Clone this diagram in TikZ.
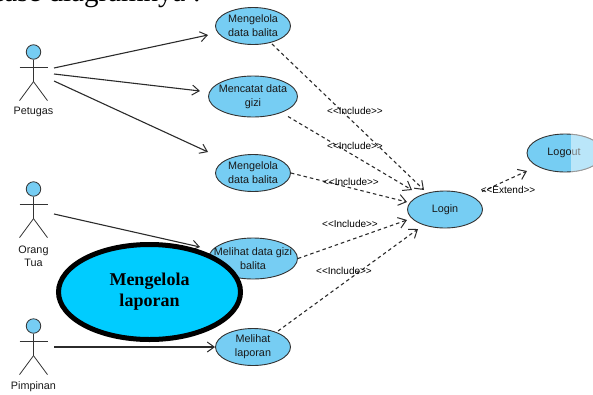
\documentclass[tikz,border=0pt]{standalone}
\usepackage{fontspec}
\setmainfont{Liberation Serif}
\newfontfamily\sansf{Liberation Sans}
\usetikzlibrary{arrows.meta,shapes.geometric}
\definecolor{uc}{HTML}{76CDF3}
\definecolor{bigc}{HTML}{00CCFF}
\definecolor{lnk}{HTML}{2B2B2B}
\tikzset{x=1pt,y=-1pt,
 ucase/.style={ellipse,draw=black!80,line width=.9pt,fill=uc,inner xsep=-12pt,inner ysep=-6pt,font=\sansf\fontsize{10.8}{14}\selectfont,align=center,text=black!90},
 assoc/.style={draw=lnk,line width=1.1pt,-{Straight Barb[length=7pt,width=10pt,line width=1pt]}},
 dep/.style={draw=lnk,line width=1.1pt,dash pattern=on 3.5pt off 3pt,-{Straight Barb[length=7.5pt,width=11pt,line width=1pt,sep=0pt]}},
 stereo/.style={font=\sansf\fontsize{10}{12}\selectfont,inner sep=0pt,text=black},
 actname/.style={font=\sansf\fontsize{10.8}{13}\selectfont,align=center,text=black!90,inner sep=0pt},
 limb/.style={draw=black!80,line width=.8pt},
}
\newcommand{\actor}[3]{%
 \node[circle,draw=black!80,line width=.8pt,fill=uc,minimum size=14.5pt,inner sep=0pt] (#3) at (#1,#2) {};
 \draw[limb] (#3.south) -- ++(0,22) coordinate (#3h);
 \draw[limb] (#1-14,#2+15) -- (#1+14,#2+15);
 \draw[limb] (#3h) -- ++(-14,19);
 \draw[limb] (#3h) -- ++(14,19);
}
\begin{document}
\begin{tikzpicture}
\useasboundingbox (0,0) rectangle (593,394);
\node[font=\fontsize{29}{32}\selectfont,anchor=base east,inner sep=0pt] (title) at (201,1) {case diagramnya :};
\actor{33.5}{52}{a1}
\actor{33.5}{189}{a2}
\actor{33.5}{326}{a3}
\node[actname] (l1) at (33.5,112) {Petugas};
\node[actname] (l2) at (33.5,256.5) {Orang\\Tua};
\node[actname] (l3) at (33.5,387) {Pimpinan};
\node[ucase,minimum width=75pt,minimum height=37pt] (u1) at (253,26) {Mengelola\\data balita};
\node[ucase,minimum width=89pt,minimum height=41pt] (u2) at (253,96.5) {Mencatat data\\gizi};
\node[ucase,minimum width=75pt,minimum height=37pt] (u3) at (253,173) {Mengelola\\data balita};
\node[ucase,minimum width=89pt,minimum height=41pt] (u4) at (253,258.5) {Melihat data gizi\\balita};
\node[ucase,minimum width=75pt,minimum height=37pt] (u5) at (253,347) {Melihat\\laporan};
\node[ucase,minimum width=75pt,minimum height=37pt] (login) at (445,209.5) {Login};
\begin{scope}
\node[ucase,minimum width=76pt,minimum height=38pt] (logout) at (565,153) {};
\clip (571,130) rectangle (610,180);
\fill[white,opacity=.5] (logout.center) ellipse (38.5pt and 19.5pt);
\end{scope}
\node[actname] (logouttext) at (564,152.5) {Logo\textcolor{black!50}{ut}};
\coordinate (s1) at (54,68);
\coordinate (s2) at (54,74);
\coordinate (s3) at (54,81);
\coordinate (s4) at (54,214);
\coordinate (s5) at (54,347);
\coordinate (e1) at (208,35);
\coordinate (e2) at (200,91);
\coordinate (e3) at (208,152);
\coordinate (e4) at (200,247);
\draw[assoc] (s1) -- (e1);
\draw[assoc] (s2) -- (e2);
\draw[assoc] (s3) -- (e3);
\draw[assoc] (s4) -- (e4);
\draw[assoc] (s5) -- (u5.west);
\draw[dep] (u1) ++(19,18) -- (424,190);
\draw[dep] (u2) ++(35,20) -- (412,190);
\draw[dep] (u3.east) -- (407,202);
\draw[dep] (u4.east) -- (407,220);
\draw[dep] (u5) ++(25,-16) -- (418,229);
\draw[dep] (login) ++(37,-18) -- (527,171);
\node[ucase,line width=5pt,draw=black,fill=bigc,minimum width=182pt,minimum height=95pt,font=\fontsize{18}{21}\selectfont\bfseries,text=black] (big) at (149.5,292) {Mengelola\\laporan};
\node[stereo] (t1) at (355,111) {<{}<Include>{}>};
\node[stereo] (t2) at (355,146) {<{}<Include>{}>};
\node[stereo] (t3) at (351,182) {<{}<Include>{}>};
\node[stereo] (t4) at (350,224) {<{}<Include>{}>};
\node[stereo] (t5) at (344,271) {<{}<Include>{}>};
\node[stereo] (t6) at (508,190) {<{}<Extend>{}>};
\end{tikzpicture}
\end{document}
